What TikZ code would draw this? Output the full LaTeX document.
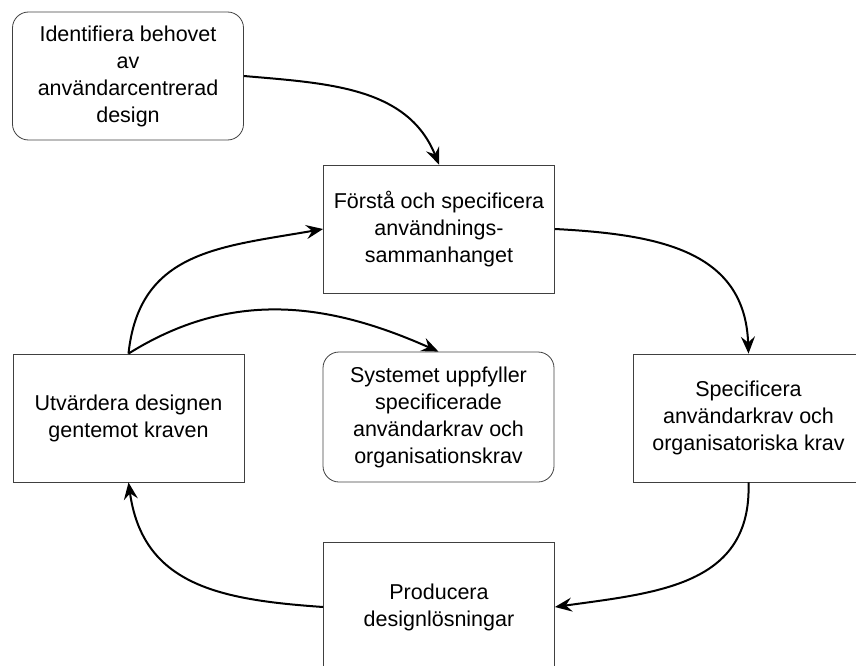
\documentclass[tikz,border=0pt]{standalone}
\usepackage{fontspec}
\setmainfont{Liberation Sans}
\usetikzlibrary{arrows.meta}

\begin{document}
\begin{tikzpicture}[x=1pt,y=-1pt,
  box/.style={draw=black!75,line width=0.8pt,minimum width=231pt,minimum height=128pt,
    align=center,inner sep=4pt,font=\fontsize{21.5}{27}\selectfont},
  rbox/.style={box,rounded corners=16pt},
  flow/.style={line width=2pt,-{Stealth[length=17pt,width=14pt,inset=6pt]}}]
\useasboundingbox (0,0) rectangle (856,666);
%
\node[rbox] (ident) at (128,76) {Identifiera behovet\\av\\användarcentrerad\\design};
\node[box] (forsta) at (439,229) {Förstå och specificera\\användnings-\\sammanhanget};
\node[box] (utv) at (128.5,418) {Utvärdera designen\\gentemot kraven};
\node[rbox,minimum height=130pt] (system) at (438.5,417) {Systemet uppfyller\\specificerade\\användarkrav och\\organisationskrav};
\node[box] (spec) at (748.5,418) {Specificera\\användarkrav och\\organisatoriska krav};
\node[box,minimum height=130pt] (prod) at (439,607) {Producera\\designlösningar};
%
\draw[flow] (ident.east) to[out=-5,in=112] (forsta.north);
\draw[flow] (forsta.east) to[out=-3,in=92,looseness=1.15] (spec.north);
\draw[flow] (spec.south) to[out=-88,in=8,looseness=1.15] (prod.east);
\draw[flow] (prod.west) to[out=176,in=-82,looseness=1.15] (utv.south);
\draw[flow] (utv.north) to[out=84,in=190,looseness=1.15] (forsta.west);
\draw[flow] (utv.north) to[out=32,in=156] (system.north);
\end{tikzpicture}
\end{document}
